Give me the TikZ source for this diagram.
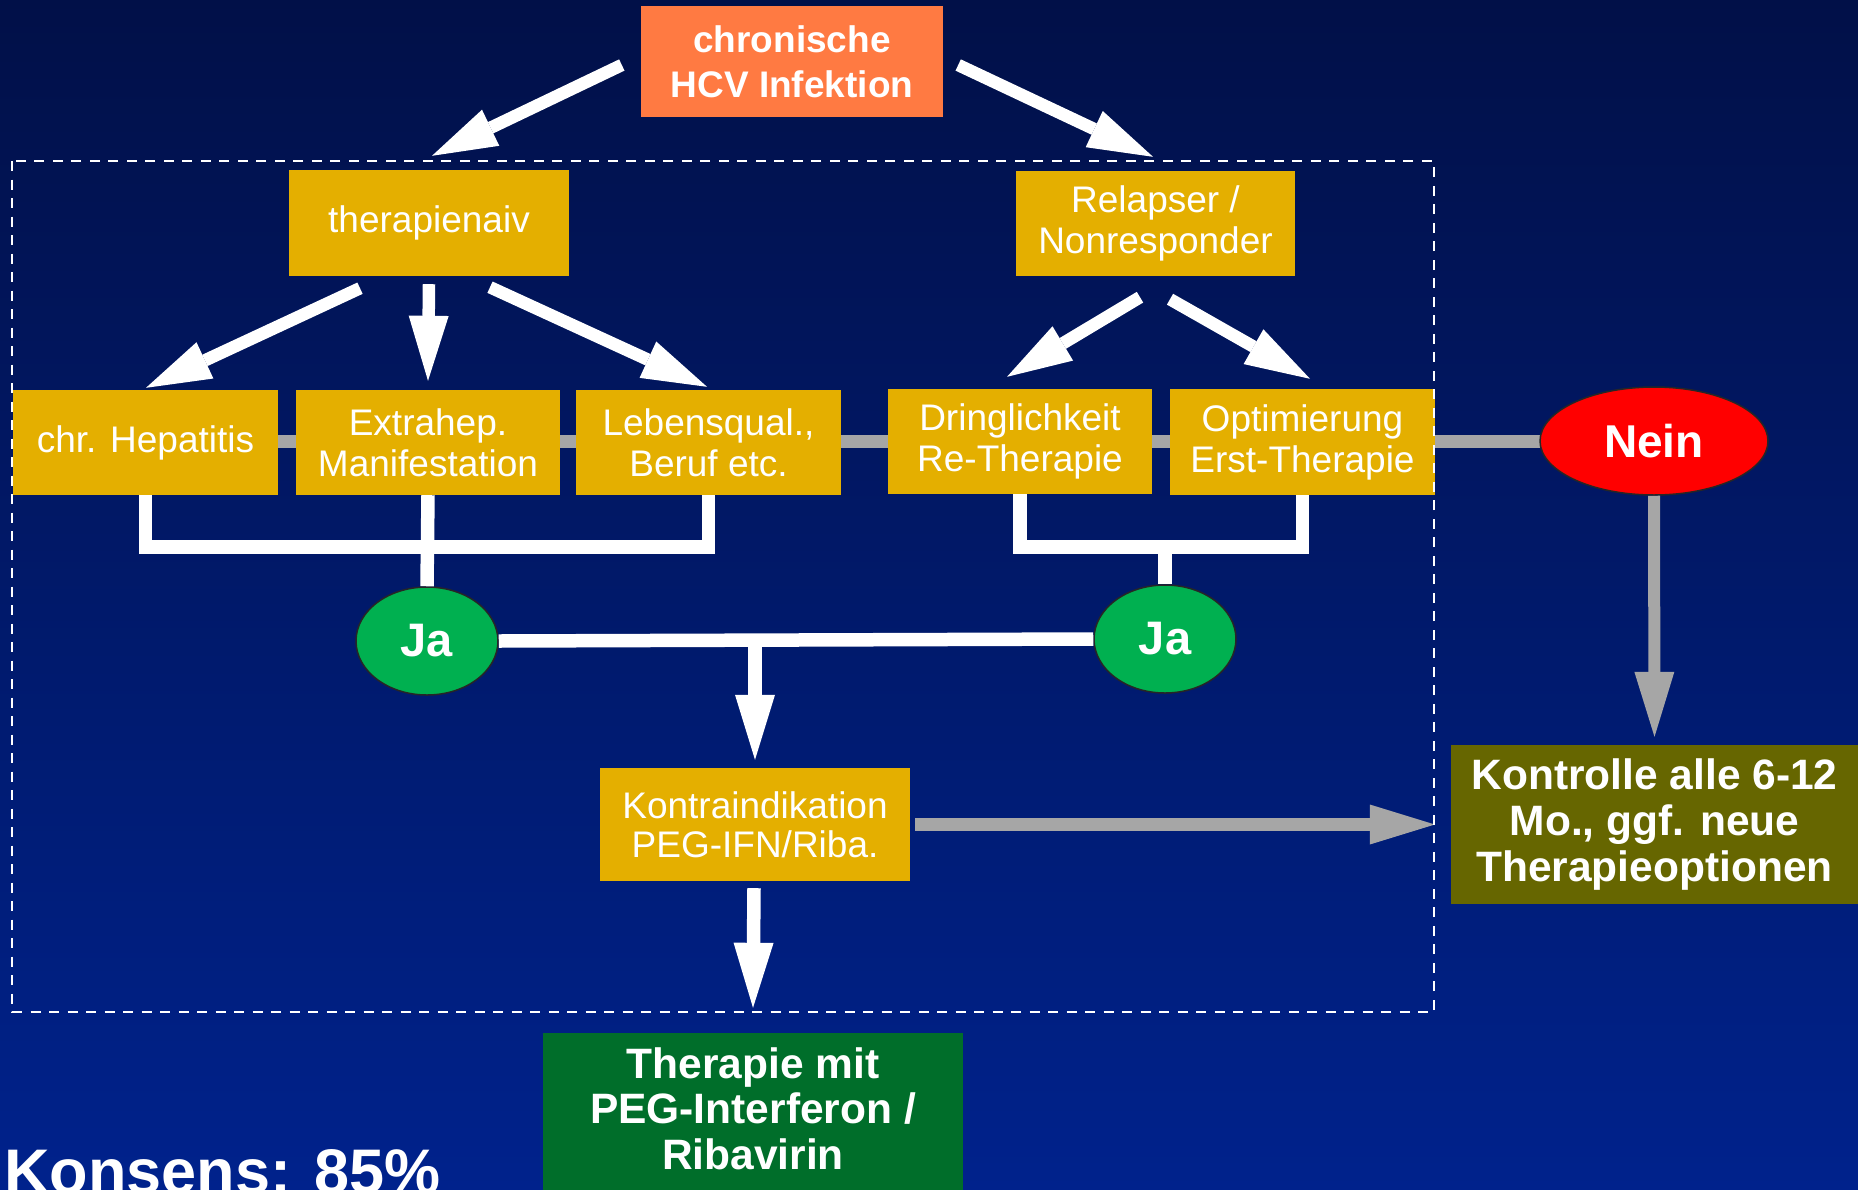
\documentclass[tikz,border=0pt]{standalone}
\usepackage{fontspec}
\setmainfont{Liberation Sans}
\usetikzlibrary{arrows.meta,shapes.geometric,calc}
\pgfdeclarelayer{backdrop}
\pgfdeclarelayer{under}
\pgfsetlayers{backdrop,under,main}

\definecolor{bgtop}{RGB}{1,16,72}
\definecolor{bgbot}{RGB}{0,34,140}
\definecolor{gold}{RGB}{228,175,0}
\definecolor{orangeC}{RGB}{255,122,66}
\definecolor{jagreen}{RGB}{0,176,80}
\definecolor{thgreen}{RGB}{0,110,42}
\definecolor{oliveC}{RGB}{102,102,0}
\definecolor{grayC}{RGB}{166,166,166}
\definecolor{neinred}{RGB}{255,0,0}

\newcommand\fsz[2]{\fontsize{#1}{#2}\selectfont}

\begin{document}
\begin{tikzpicture}[x=1pt,y=-1pt,
  rbox/.style 2 args={rectangle, minimum width=#1pt, minimum height=#2pt,
    inner sep=0pt, align=center, text=white},
  goldbox/.style={fill=gold, font=\fsz{37}{41}},
  oval/.style 2 args={ellipse, minimum width=#1pt, minimum height=#2pt,
    inner sep=0pt, draw=black!85, line width=1.5pt, text=white},
  warrow/.style={draw=white, line width=12.5pt,
    -{Triangle[length=65pt,width=40pt,line width=0pt]}},
  garrow/.style={draw=grayC,
    -{Triangle[length=65pt,width=40pt,line width=0pt]}},
  wline/.style={draw=white, line width=13.5pt, line join=miter},
]
% page area and background
\useasboundingbox (0,0) rectangle (1858,1189);
\begin{pgfonlayer}{backdrop}
  \shade[top color=bgtop, bottom color=bgbot] (0,0) rectangle (1858,1189);
\end{pgfonlayer}
\clip (0,0) rectangle (1858,1189);

% boxes
\node[rbox={302}{111}, fill=orangeC, font=\bfseries\fsz{37}{45}] (chron) at (792,61.5)
  {chronische\\HCV Infektion};
\node[rbox={280}{106}, goldbox] (naiv) at (429,223) {therapienaiv};
\node[rbox={279}{105}, goldbox] (relapser) at (1155.5,223.5) {Relapser /\\Nonresponder};

\node[rbox={265}{105}, goldbox] (hep) at (145.5,442.5) {chr. Hepatitis};
\node[rbox={264}{105}, goldbox] (extra) at (428,442.5) {Extrahep.\\Manifestation};
\node[rbox={265}{105}, goldbox] (leben) at (708.5,442.5) {Lebensqual.,\\Beruf etc.};
\node[rbox={264}{105}, goldbox] (dring) at (1020,441.5) {Dringlichkeit\\Re-Therapie};
\node[rbox={265}{106}, goldbox] (opt) at (1302.5,442) {Optimierung\\Erst-Therapie};

\node[oval={228}{108}, fill=neinred, font=\bfseries\fsz{46}{50}] (nein) at (1654,441) {Nein};
\node[oval={142}{108}, fill=jagreen, font=\bfseries\fsz{47}{50}] (jaL) at (427,641) {Ja};
\node[oval={142}{108}, fill=jagreen, font=\bfseries\fsz{47}{50}] (jaR) at (1165,639) {Ja};

\node[rbox={310}{113}, fill=gold, font=\fsz{37}{39}] (kontra) at (755,824.5)
  {Kontraindikation\\PEG-IFN/Riba.};
\node[rbox={407}{159}, fill=oliveC, font=\bfseries\fsz{42.5}{46}] (kontrolle) at (1654.5,824.5)
  {Kontrolle alle 6-12\\Mo., ggf. neue\\Therapieoptionen};
\node[rbox={420}{170}, fill=thgreen, font=\bfseries\fsz{42.5}{45.5}, text depth=19pt] (therapie) at (753,1118)
  {Therapie mit\\PEG-Interferon /\\Ribavirin};

\node[anchor=base west, inner sep=0pt, text=white, font=\bfseries\fsz{63}{70}] (konsens) at (4,1193)
  {Konsens: 85\%};

% grey bar through the row of criteria
\begin{pgfonlayer}{under}
  \draw[grayC, line width=13pt] (hep.center |- nein.center) -- (nein.center);
\end{pgfonlayer}

% arrows from the top
\draw[warrow] ($(chron.west)+(-19,3.5)$) -- ($(naiv.north)+(3,-14)$);
\draw[warrow] ($(chron.east)+(15,3.5)$) -- ($(relapser.north)+(-2.5,-14)$);
\draw[warrow] ($(naiv.south)+(-69,12)$) -- ($(hep.north)+(0.5,-2)$);
\draw[warrow] ($(naiv.south)+(0,8)$) -- ($(extra.north)+(0,-9)$);
\draw[warrow] ($(naiv.south)+(61,11)$) -- ($(leben.north)+(-1.5,-3)$);
\draw[warrow] ($(relapser.south)+(-15.5,21)$) -- ($(dring.north)+(-13,-12)$);
\draw[warrow] ($(relapser.south)+(14.5,23)$) -- ($(opt.north)+(7.5,-10)$);

% brackets joining the criteria to "Ja"
\coordinate (jL) at (428,547);
\coordinate (jR) at (1165,547);
\draw[wline] (hep.south) |- (jL) -| (leben.south);
\draw[wline] (extra.south) -- (jaL.north);
\draw[wline] (dring.south) |- (jR) -| (opt.south);
\draw[wline] (jR) -- (jaR.north);

% "Ja" branch
\draw[wline] (jaL.east) -- (jaR.west);
\draw[warrow, line width=13.5pt] (kontra.north |- jaL.center) -- ($(kontra.north)+(0,-8)$);
\draw[warrow, line width=13.5pt] ($(kontra.south)+(-1,7)$) -- ($(therapie.north)+(0,-25)$);

% grey arrows to the follow-up box
\draw[garrow, line width=12pt] (nein.south) -- ($(kontrolle.north)+(0,-8)$);
\draw[garrow, line width=13.5pt] ($(kontra.east)+(5,0)$) -- ($(kontrolle.west)+(-16,0)$);

% dashed frame
\draw[white, line width=2.2pt, dash pattern=on 10pt off 8.5pt] (12,161) rectangle (1434,1012);
\end{tikzpicture}
\end{document}
